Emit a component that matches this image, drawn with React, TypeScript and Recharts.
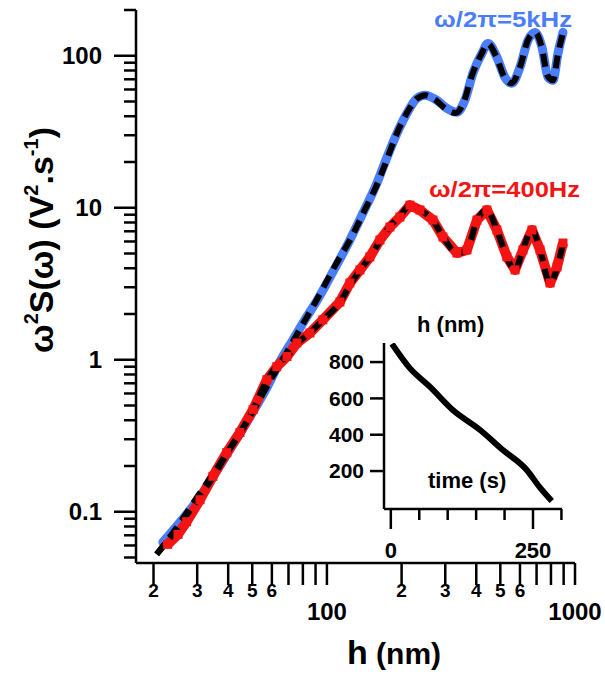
import React from 'react';
import { LineChart, Line, XAxis, YAxis } from 'recharts';

const FONT = '"Liberation Sans", Arial, Helvetica, sans-serif';
const BLUE = '#4a7ef8';
const RED = '#f41414';

// omega/2pi = 5 kHz : measured spectrum (h in nm, w^2 S(w) in V^2/s)
const blueH = [21.8, 30.8, 39.5, 50.4, 57.3, 64.6, 72.9, 81.5, 92.0, 105.7, 123.8, 139.7, 159.0, 174.7, 191.5, 210.2, 230.7, 248.4, 277.7, 304.7, 334.3, 359.8, 387.7, 421.7, 445.7, 484.4, 522.0, 556.8, 599.9, 646.3, 689.8, 736.1, 778.5, 815.3, 853.8, 894.3];
const blueV = [0.063, 0.126, 0.238, 0.456, 0.655, 0.97, 1.35, 1.83, 2.51, 3.78, 6.14, 9.23, 14.5, 21.5, 30.9, 41.9, 52.5, 55.0, 50.9, 45.1, 42.5, 50.9, 76.6, 103.7, 120.6, 97.8, 72.1, 65.9, 83.9, 126.2, 142.5, 113.5, 72.1, 69.0, 103.7, 142.5];

// omega/2pi = 400 Hz : measured spectrum
const redH = [22.8, 25.1, 27.2, 30.8, 34.7, 39.5, 44.6, 50.4, 57.3, 62.8, 69.0, 75.7, 85.4, 96.3, 112.8, 123.8, 135.9, 149.0, 163.6, 179.5, 196.9, 216.1, 237.1, 267.5, 293.6, 334.3, 366.8, 402.5, 441.6, 484.4, 531.7, 573.2, 617.2, 670.8, 722.9, 793.4, 845.9, 894.3];
const redV = [0.061, 0.071, 0.086, 0.120, 0.171, 0.245, 0.332, 0.47, 0.739, 0.90, 1.05, 1.29, 1.50, 1.83, 2.4, 3.20, 3.90, 4.75, 6.14, 7.47, 8.69, 10.4, 9.66, 8.30, 6.42, 5.04, 5.28, 8.30, 9.66, 7.14, 4.75, 3.90, 5.28, 7.14, 5.28, 3.20, 4.08, 5.86];

// fits (black dashed)
const blueFitH = [20.6, 25, 30, 35, 40, 50, 60, 70, 80, 90, 100, 110, 125, 140, 160, 175, 190, 210, 230, 250, 275, 300, 330, 355, 385, 420, 445, 480, 520, 555, 600, 645, 690, 735, 775, 815, 855, 895];
const blueFitV = [0.0525, 0.08, 0.125, 0.18, 0.25, 0.45, 0.76, 1.17, 1.72, 2.4, 3.3, 4.4, 6.3, 9.2, 14.5, 21, 30, 42, 52, 55, 51, 45, 42, 49, 75, 103, 120, 100, 72, 66, 84, 126, 142, 113, 74, 69, 104, 143];

const redFitH = [20.6, 25, 30, 35, 40, 45, 50, 57, 63, 70, 76, 86, 97, 112, 124, 136, 150, 165, 180, 197, 215, 237, 268, 295, 334, 367, 402, 440, 485, 532, 573, 617, 670, 722, 793, 846, 894];
const redFitV = [0.0525, 0.078, 0.12, 0.172, 0.25, 0.335, 0.46, 0.72, 0.92, 1.08, 1.28, 1.52, 1.85, 2.35, 3.1, 3.9, 4.8, 6.2, 7.6, 8.8, 10.3, 9.7, 8.2, 6.4, 5.0, 5.3, 8.2, 9.7, 7.1, 4.7, 3.9, 5.3, 7.2, 5.3, 3.2, 4.0, 5.8];

// inset: film thickness vs time
const insetTime = [2, 33, 69, 109, 157, 197, 239, 262, 283];
const insetThickness = [900, 768, 663, 536, 426, 316, 206, 110, 35];

// axis ticks
const xTickValues = [20, 30, 40, 50, 60, 70, 80, 90, 100, 200, 300, 400, 500, 600, 700, 800, 900, 1000];
const xTickLabels = ['2', '3', '4', '5', '6', '', '', '', '100', '2', '3', '4', '5', '6', '', '', '', '1000'];
const xMajorTicks = [100, 1000];

const yTickValues = [0.05, 0.06, 0.07, 0.08, 0.09, 0.1, 0.2, 0.3, 0.4, 0.5, 0.6, 0.7, 0.8, 0.9, 1, 2, 3, 4, 5, 6, 7, 8, 9, 10, 20, 30, 40, 50, 60, 70, 80, 90, 100, 200];
const yMajorTicks = [0.1, 1, 10, 100];
const yMajorLabels = ['0.1', '1', '10', '100'];

const insetXTicks = [0, 50, 100, 150, 200, 250, 300];
const insetXLabels = ['0', '', '', '', '', '250', ''];
const insetYTicks = [200, 400, 600, 800];
const insetYLabels = ['200', '400', '600', '800'];

const pairs = (hs: number[], vs: number[]) => hs.map((h, i) => ({ h, v: vs[i] }));
const blueData = pairs(blueH, blueV);
const redData = pairs(redH, redV);
const blueFit = pairs(blueFitH, blueFitV);
const redFit = pairs(redFitH, redFitV);
const insetData = insetTime.map((t, i) => ({ t, h: insetThickness[i] }));

const MainXTick = (props: any) => {
  const { x, y, payload } = props;
  const i = xTickValues.indexOf(payload.value);
  const label = xTickLabels[i];
  const major = xMajorTicks.includes(payload.value);
  return (
    <g>
      <line x1={x} x2={x} y1={y} y2={y + 22} stroke="#000" strokeWidth={2.5} />
      {label ? (
        <text x={x} y={major ? y + 57 : y + 34} textAnchor="middle" fontFamily={FONT}
          fontWeight="bold" fontSize={major ? 24 : 19} fill="#000">{label}</text>
      ) : null}
    </g>
  );
};

const MainYTick = (props: any) => {
  const { x, y, payload } = props;
  const i = yMajorTicks.indexOf(payload.value);
  const major = i >= 0;
  return (
    <g>
      <line x1={x - (major ? 22 : 12)} x2={x} y1={y} y2={y} stroke="#000" strokeWidth={2.5} />
      {major ? (
        <text x={x - 34} y={y} dy="0.35em" textAnchor="end" fontFamily={FONT}
          fontWeight="bold" fontSize={24} fill="#000">{yMajorLabels[i]}</text>
      ) : null}
    </g>
  );
};

const InsetXTick = (props: any) => {
  const { x, y, payload } = props;
  const i = insetXTicks.indexOf(payload.value);
  const label = insetXLabels[i];
  return (
    <g>
      <line x1={x} x2={x} y1={y} y2={y + (label ? 20 : 11)} stroke="#000" strokeWidth={2.5} />
      {label ? (
        <text x={x} y={y + 49} textAnchor="middle" fontFamily={FONT}
          fontWeight="bold" fontSize={22} fill="#000">{label}</text>
      ) : null}
    </g>
  );
};

const InsetYTick = (props: any) => {
  const { x, y, payload } = props;
  const i = insetYTicks.indexOf(payload.value);
  return (
    <g>
      <line x1={x - 14} x2={x} y1={y} y2={y} stroke="#000" strokeWidth={2.5} />
      <text x={x - 20} y={y} dy="0.35em" textAnchor="end" fontFamily={FONT}
        fontWeight="bold" fontSize={21} fill="#000">{insetYLabels[i]}</text>
    </g>
  );
};

// square markers give the 400 Hz trace its lumpy look
const RedSquare = (props: any) => {
  const { cx, cy } = props;
  if (cx == null || cy == null) return null;
  return <rect x={cx - 4.5} y={cy - 4.5} width={9} height={9} fill={RED} />;
};

const axisLine = { stroke: '#000', strokeWidth: 2.5 };

export default function App() {
  return (
    <div style={{ position: 'absolute', left: 0, top: 0, width: 605, height: 675, background: '#fff' }}>
      <LineChart width={605} height={675} margin={{ top: 10, right: 30, left: 76, bottom: 72 }}>
        <XAxis dataKey="h" type="number" scale="log" domain={[17, 1000]} allowDataOverflow
          ticks={xTickValues} interval={0} tick={(p: any) => <MainXTick {...p} />}
          tickLine={false} tickSize={0} tickMargin={0} axisLine={axisLine} height={40} />
        <YAxis dataKey="v" type="number" scale="log" domain={[0.046, 200]} allowDataOverflow
          ticks={yTickValues} interval={0} tick={(p: any) => <MainYTick {...p} />}
          tickLine={false} tickSize={0} tickMargin={0} axisLine={axisLine} width={60} />
        <Line data={blueData} dataKey="v" type="monotone" stroke={BLUE} strokeWidth={9}
          dot={false} isAnimationActive={false} strokeLinecap="round" />
        <Line data={redData} dataKey="v" type="linear" stroke={RED} strokeWidth={10}
          dot={(p: any) => <RedSquare key={`sq-${p.index}`} {...p} />} isAnimationActive={false}
          strokeLinejoin="round" />
        <Line data={blueFit} dataKey="v" type="monotone" stroke="#000" strokeWidth={6}
          strokeDasharray="13 8" dot={false} isAnimationActive={false} />
        <Line data={redFit} dataKey="v" type="monotone" stroke="#000" strokeWidth={6}
          strokeDasharray="13 8" dot={false} isAnimationActive={false} />
      </LineChart>

      <div style={{ position: 'absolute', left: 0, top: 0 }}>
        <LineChart width={605} height={675} data={insetData} margin={{ top: 343, right: 43, left: 324, bottom: 126 }}>
          <XAxis dataKey="t" type="number" domain={[-12, 301]} allowDataOverflow
            ticks={insetXTicks} interval={0} tick={(p: any) => <InsetXTick {...p} />}
            tickLine={false} tickSize={0} tickMargin={0} axisLine={axisLine} height={40} />
          <YAxis dataKey="h" type="number" domain={[-9, 905]} allowDataOverflow
            ticks={insetYTicks} interval={0} tick={(p: any) => <InsetYTick {...p} />}
            tickLine={false} tickSize={0} tickMargin={0} axisLine={axisLine} width={60} />
          <Line dataKey="h" type="monotone" stroke="#000" strokeWidth={6} dot={false}
            isAnimationActive={false} />
        </LineChart>
      </div>

      <svg width={605} height={675} style={{ position: 'absolute', left: 0, top: 0, pointerEvents: 'none' }}
        fontFamily={FONT} fontWeight="bold">
        <text x={434} y={27} fontSize={22} fill={BLUE} textLength={138} lengthAdjust="spacingAndGlyphs">ω/2π=5kHz</text>
        <text x={429} y={197} fontSize={22} fill={RED} textLength={151} lengthAdjust="spacingAndGlyphs">ω/2π=400Hz</text>
        <text x={417} y={332} fontSize={22} fill="#000">h (nm)</text>
        <text x={428} y={488} fontSize={22} fill="#000">time (s)</text>
        <text x={347} y={664} fill="#000">
          <tspan fontSize={34}>h</tspan>
          <tspan fontSize={30}> (nm)</tspan>
        </text>
        <text transform="translate(53, 240) rotate(-90)" textAnchor="middle" fontSize={34} fill="#000">
          ω<tspan fontSize={20} dy={-15}>2</tspan>
          <tspan dy={15}>S(ω) (V</tspan>
          <tspan fontSize={20} dy={-15}>2</tspan>
          <tspan dy={15}>.s</tspan>
          <tspan fontSize={20} dy={-15}>-1</tspan>
          <tspan dy={15}>)</tspan>
        </text>
      </svg>
    </div>
  );
}
